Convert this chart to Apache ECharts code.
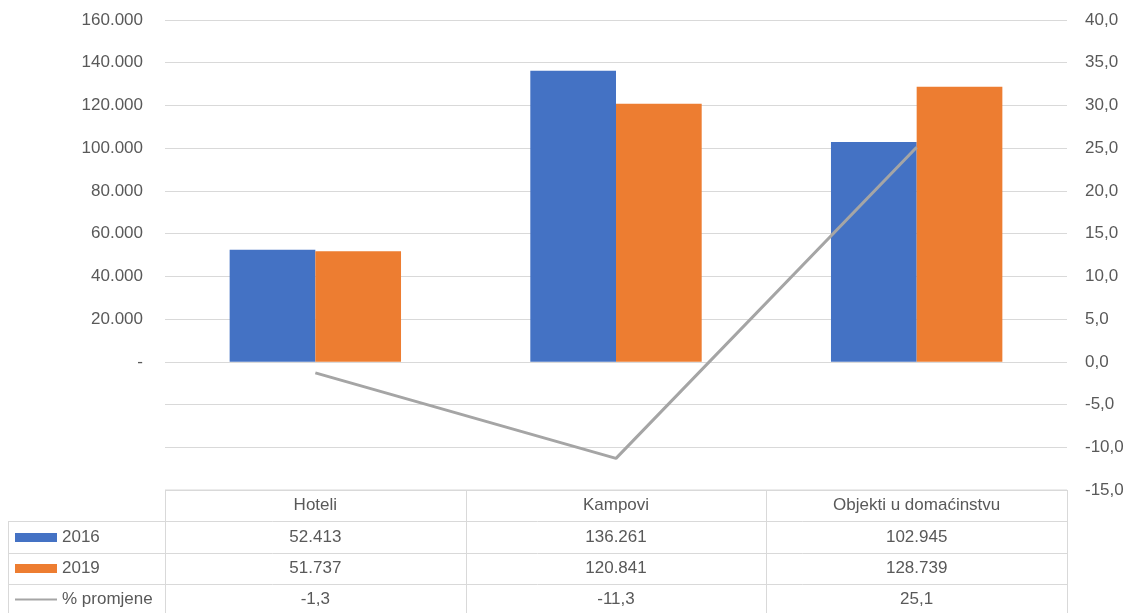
<!DOCTYPE html>
<html>
<head>
<meta charset="utf-8">
<script src="https://cdn.jsdelivr.net/npm/echarts@6/dist/echarts.min.js"></script>
<style>
  html, body { margin: 0; padding: 0; background: #fff; }
  #chart { width: 1131px; height: 613px; }
</style>
</head>
<body>
<div id="chart"></div>
<script>
var categories = ['Hoteli', 'Kampovi', 'Objekti u domaćinstvu'];
var values2016 = [52413, 136261, 102945];
var values2019 = [51737, 120841, 128739];
var pctChange = [-1.3, -11.3, 25.1];
var seriesNames = ['2016', '2019', '% promjene'];

var textColor = '#595959';
var lineColor = '#d9d9d9';
var fontFamily = '"Liberation Sans", Arial, sans-serif';
var fontSize = 17;

function fmtThousands(v) {
    return String(Math.round(v)).replace(/\B(?=(\d{3})+(?!\d))/g, '.');
}
function fmtDecimal(v) {
    return v.toFixed(1).replace('.', ',');
}

var chart = echarts.init(document.getElementById('chart'));

var option = {
    animation: false,
    textStyle: { fontFamily: fontFamily },
    grid: { left: 165, right: 64, top: 20, bottom: 123 },
    legend: {
        orient: 'vertical',
        left: 14,
        top: 529,
        padding: 0,
        itemWidth: 42,
        itemHeight: 9,
        itemGap: 14,
        textStyle: { color: textColor, fontSize: fontSize, fontFamily: fontFamily },
        data: [
            { name: '2016', icon: 'rect' },
            { name: '2019', icon: 'rect' },
            { name: '% promjene', itemStyle: { opacity: 0 } }
        ]
    },
    xAxis: {
        type: 'category',
        data: categories,
        axisLine: { show: false },
        axisTick: { show: false },
        axisLabel: { color: textColor, fontSize: fontSize, margin: 7 }
    },
    yAxis: [
        {
            type: 'value',
            min: -60000,
            max: 160000,
            interval: 20000,
            axisLine: { show: false },
            axisTick: { show: false },
            splitLine: { lineStyle: { color: lineColor, width: 1 } },
            axisLabel: {
                color: textColor,
                fontSize: fontSize,
                margin: 22,
                formatter: function (v) {
                    if (v < 0) return '';
                    if (v === 0) return '-';
                    return fmtThousands(v);
                }
            }
        },
        {
            type: 'value',
            min: -15,
            max: 40,
            interval: 5,
            axisLine: { show: false },
            axisTick: { show: false },
            splitLine: { show: false },
            axisLabel: {
                color: textColor,
                fontSize: fontSize,
                margin: 18,
                formatter: function (v) { return fmtDecimal(v); }
            }
        }
    ],
    series: [
        {
            name: seriesNames[0],
            type: 'bar',
            data: values2016,
            barGap: '0%',
            barCategoryGap: '43%',
            itemStyle: { color: '#4472c4' }
        },
        {
            name: seriesNames[1],
            type: 'bar',
            data: values2019,
            itemStyle: { color: '#ed7d31' }
        },
        {
            name: seriesNames[2],
            type: 'line',
            yAxisIndex: 1,
            data: pctChange,
            showSymbol: false,
            lineStyle: { color: '#a5a5a5', width: 3 },
            itemStyle: { color: '#a5a5a5' }
        }
    ]
};

chart.setOption(option);

// data table under the plot, laid out from the axis positions
function buildTable() {
    var g = [];
    var top = 490, rowH = 31.3, tableLeft = 8;
    var centers = categories.map(function (c) {
        return chart.convertToPixel({ xAxisIndex: 0 }, c);
    });
    var half = (centers[1] - centers[0]) / 2;
    var left = centers[0] - half;
    var right = centers[centers.length - 1] + half;
    var bottom = 613;

    function hline(x1, x2, y) {
        g.push({ type: 'line', silent: true, shape: { x1: x1, y1: y, x2: x2, y2: y },
            style: { stroke: lineColor, lineWidth: 1 } });
    }
    function vline(x, y1, y2) {
        g.push({ type: 'line', silent: true, shape: { x1: x, y1: y1, x2: x, y2: y2 },
            style: { stroke: lineColor, lineWidth: 1 } });
    }

    hline(left, right, top);
    for (var r = 1; r <= 3; r++) {
        hline(tableLeft, right, Math.round(top + rowH * r) + 0.5);
    }
    vline(tableLeft + 0.5, Math.round(top + rowH) + 0.5, bottom);
    for (var i = 0; i <= categories.length; i++) {
        vline(Math.round(left + half * 2 * i) + 0.5, top, bottom);
    }

    var rows = [
        values2016.map(fmtThousands),
        values2019.map(fmtThousands),
        pctChange.map(fmtDecimal)
    ];
    rows.forEach(function (row, ri) {
        row.forEach(function (txt, ci) {
            g.push({
                type: 'text',
                silent: true,
                x: centers[ci],
                y: top + rowH * (ri + 1.5),
                style: {
                    text: txt,
                    fill: textColor,
                    font: fontSize + 'px ' + fontFamily,
                    align: 'center',
                    verticalAlign: 'middle'
                }
            });
        });
    });
    chart.setOption({ graphic: g });
}
buildTable();
</script>
</body>
</html>
